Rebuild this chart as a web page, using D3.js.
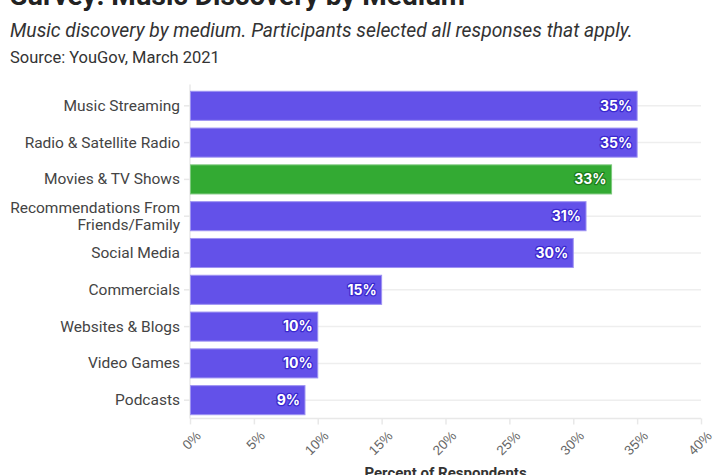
<!DOCTYPE html>
<html>
<head>
<meta charset="utf-8">
<script src="https://cdn.jsdelivr.net/npm/d3@7"></script>
<style>
  html, body { margin: 0; padding: 0; background: #fff; }
  svg { display: block; font-family: Roboto, "Noto Sans", sans-serif; }
</style>
</head>
<body>
<svg id="grafico" width="720" height="475"></svg>
<script>
const categorias = [
  "Music Streaming",
  "Radio & Satellite Radio",
  "Movies & TV Shows",
  "Recommendations From|Friends/Family",
  "Social Media",
  "Commercials",
  "Websites & Blogs",
  "Video Games",
  "Podcasts"
];
const valores = [35, 35, 33, 31, 30, 15, 10, 10, 9];
const destaque = "Movies & TV Shows";
const ticksX = [0, 5, 10, 15, 20, 25, 30, 35, 40];

const W = 720;
const H = 475;
const margin = { top: 87.6, right: 19, bottom: 56.6, left: 190 };
const plotW = W - margin.left - margin.right;
const plotH = H - margin.top - margin.bottom;

const dados = categorias.map((c, i) => ({ categoria: c, valor: valores[i] }));

const x = d3.scaleLinear().domain([0, 40]).range([0, plotW]);
const y = d3.scaleBand().domain(categorias).range([0, plotH]).paddingInner(0.21).paddingOuter(0.1);

const svg = d3.select("#grafico");

svg.append("text").attr("x", 10).attr("y", 5).attr("font-size", "28px").attr("font-weight", 700)
  .attr("fill", "#222").text("Survey: Music Discovery by Medium");
svg.append("text").attr("x", 10).attr("y", 37).attr("font-size", "19.3px").attr("font-style", "italic")
  .attr("fill", "#333").text("Music discovery by medium. Participants selected all responses that apply.");
svg.append("text").attr("x", 10).attr("y", 63).attr("font-size", "16.5px")
  .attr("fill", "#333").text("Source: YouGov, March 2021");

const g = svg.append("g").attr("transform", `translate(${margin.left},${margin.top})`);

// linhas de grade horizontais no centro de cada categoria
g.append("g")
  .selectAll("line")
  .data(categorias)
  .join("line")
  .attr("x1", 0)
  .attr("x2", plotW)
  .attr("y1", (d) => y(d) + y.bandwidth() / 2)
  .attr("y2", (d) => y(d) + y.bandwidth() / 2)
  .attr("stroke", "#eeeeee")
  .attr("stroke-width", 1.5);

// eixo y
const eixoY = g.append("g")
  .call(d3.axisLeft(y).tickSize(6).tickPadding(4))
  .call((sel) => sel.selectAll("line,.domain").attr("stroke", "#e8e8e8").attr("stroke-width", 1.5))
  .call((sel) => sel.select(".domain").attr("d", `M0,-3V${plotH}`));

eixoY.selectAll("text").each(function (d) {
  const partes = d.split("|");
  const t = d3.select(this).text(null)
    .attr("fill", "#444").attr("font-size", "15.5px").attr("font-family", "Roboto, sans-serif");
  partes.forEach((p, i) => {
    t.append("tspan")
      .attr("x", -10)
      .attr("dy", i === 0 ? `${0.32 - (partes.length - 1) * 0.55}em` : "1.1em")
      .text(p);
  });
});
eixoY.selectAll("text").attr("dy", null);

// eixo x
g.append("g")
  .attr("transform", `translate(0,${plotH})`)
  .call(d3.axisBottom(x).tickValues(ticksX).tickSize(6).tickFormat((d) => d + "%"))
  .call((sel) => sel.selectAll("line,.domain").attr("stroke", "#e8e8e8").attr("stroke-width", 1.5))
  .call((sel) => sel.select(".domain").attr("d", `M0,0H${plotW}`))
  .call((sel) => sel.selectAll("text")
    .attr("fill", "#666").attr("font-size", "13.5px")
    .attr("text-anchor", "end")
    .attr("dy", null)
    .attr("transform", "translate(5,12) rotate(-45)"));

g.append("text")
  .attr("x", plotW / 2)
  .attr("y", plotH + 60)
  .attr("text-anchor", "middle")
  .attr("font-size", "15px")
  .attr("font-weight", 700)
  .attr("fill", "#333")
  .text("Percent of Respondents");

// barras
const cor = (d) => (d.categoria === destaque ? "#33aa33" : "#6351e9");
const corBorda = (d) => (d.categoria === destaque ? "#7cc87c" : "#9d92f2");
const corHalo = (d) => (d.categoria === destaque ? "#1d7d1d" : "#3a28cf");

g.selectAll("rect.barra")
  .data(dados)
  .join("rect")
  .attr("class", "barra")
  .attr("x", 0.5)
  .attr("y", (d) => y(d.categoria))
  .attr("width", (d) => x(d.valor) - 0.5)
  .attr("height", y.bandwidth())
  .attr("fill", cor)
  .attr("stroke", corBorda)
  .attr("stroke-width", 1);

g.selectAll("text.valor")
  .data(dados)
  .join("text")
  .attr("class", "valor")
  .attr("x", (d) => x(d.valor) - 5)
  .attr("y", (d) => y(d.categoria) + y.bandwidth() / 2)
  .attr("dy", "0.35em")
  .attr("text-anchor", "end")
  .attr("font-family", "Inter, sans-serif")
  .attr("font-size", "14px")
  .attr("font-weight", 700)
  .attr("fill", "#fff")
  .attr("stroke", corHalo)
  .attr("stroke-width", 2.5)
  .attr("paint-order", "stroke")
  .attr("stroke-linejoin", "round")
  .text((d) => d.valor + "%");
</script>
</body>
</html>
